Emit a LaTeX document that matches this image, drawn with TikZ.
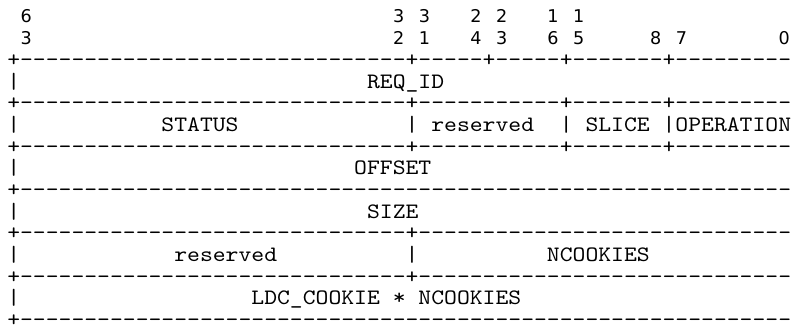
\documentclass[tikz,border=0pt]{standalone}
\usepackage{fontspec}
\newfontfamily\asciifont{Latin Modern Mono}[FakeStretch=1.1126]
\newfontfamily\numfont{DejaVu Sans}
\usepackage{tikz}

\newcommand\dashrun[1]{\foreach \k in {1,...,#1}{-}}

\begin{document}
\begin{tikzpicture}
                    [
                    x=6.425pt, y=10.835pt,
                    ch/.style={font=\asciifont\fontsize{11}{11}\selectfont, inner sep=0pt, anchor=base west},
                    num/.style={font=\numfont\fontsize{8.8}{9}\selectfont, inner sep=0pt, anchor=base},
                    ]
                    \useasboundingbox (-0.5354,1.0614) rectangle (61.2546,-13.936);
                    % bit numbers
                    \node[num] (b63a) at (1.5,0) {6};
                    \node[num] (b32a) at (30.5,0) {3};
                    \node[num] (b31a) at (32.5,0) {3};
                    \node[num] (b24a) at (36.5,0) {2};
                    \node[num] (b23a) at (38.5,0) {2};
                    \node[num] (b16a) at (42.5,0) {1};
                    \node[num] (b15a) at (44.5,0) {1};
                    \node[num] (b63b) at (1.5,-1) {3};
                    \node[num] (b32b) at (30.5,-1) {2};
                    \node[num] (b31b) at (32.5,-1) {1};
                    \node[num] (b24b) at (36.5,-1) {4};
                    \node[num] (b23b) at (38.5,-1) {3};
                    \node[num] (b16b) at (42.5,-1) {6};
                    \node[num] (b15b) at (44.5,-1) {5};
                    \node[num] (b8b) at (50.5,-1) {8};
                    \node[num] (b7b) at (52.5,-1) {7};
                    \node[num] (b0b) at (60.5,-1) {0};
                    % word 0
                    \node[ch] (rule0) at (0,-2) {+\dashrun{30}+\dashrun{5}+\dashrun{5}+\dashrun{7}+\dashrun{9}};
                    \node[ch] (bar0) at (0,-3) {|};
                    \node[ch] (reqid) at (28,-3) {REQ\_ID};
                    % word 1
                    \node[ch] (rule1) at (0,-4) {+\dashrun{30}+\dashrun{11}+\dashrun{7}+\dashrun{9}};
                    \node[ch] (bar1) at (0,-5) {|};
                    \node[ch] (status) at (12,-5) {STATUS};
                    \node[ch] (bar1a) at (31,-5) {|};
                    \node[ch] (resv1) at (33,-5) {reserved};
                    \node[ch] (bar1b) at (43,-5) {|};
                    \node[ch] (slice) at (45,-5) {SLICE};
                    \node[ch] (operation) at (51,-5) {|OPERATION};
                    \node[ch] (rule2) at (0,-6) {+\dashrun{30}+\dashrun{11}+\dashrun{7}+\dashrun{9}};
                    % word 2, 3
                    \node[ch] (bar2) at (0,-7) {|};
                    \node[ch] (offset) at (27,-7) {OFFSET};
                    \node[ch] (rule3) at (0,-8) {+\dashrun{60}};
                    \node[ch] (bar3) at (0,-9) {|};
                    \node[ch] (size) at (28,-9) {SIZE};
                    % word 4
                    \node[ch] (rule4) at (0,-10) {+\dashrun{30}+\dashrun{29}};
                    \node[ch] (bar4) at (0,-11) {|};
                    \node[ch] (resv4) at (13,-11) {reserved};
                    \node[ch] (bar4a) at (31,-11) {|};
                    \node[ch] (ncookies) at (42,-11) {NCOOKIES};
                    \node[ch] (rule5) at (0,-12) {+\dashrun{30}+\dashrun{29}};
                    % cookies
                    \node[ch] (bar5) at (0,-13) {|};
                    \node[ch] (cookies) at (19,-13) {LDC\_COOKIE * NCOOKIES};
                    \node[ch] (rule6) at (0,-14) {+\dashrun{60}};
\end{tikzpicture}
\end{document}
